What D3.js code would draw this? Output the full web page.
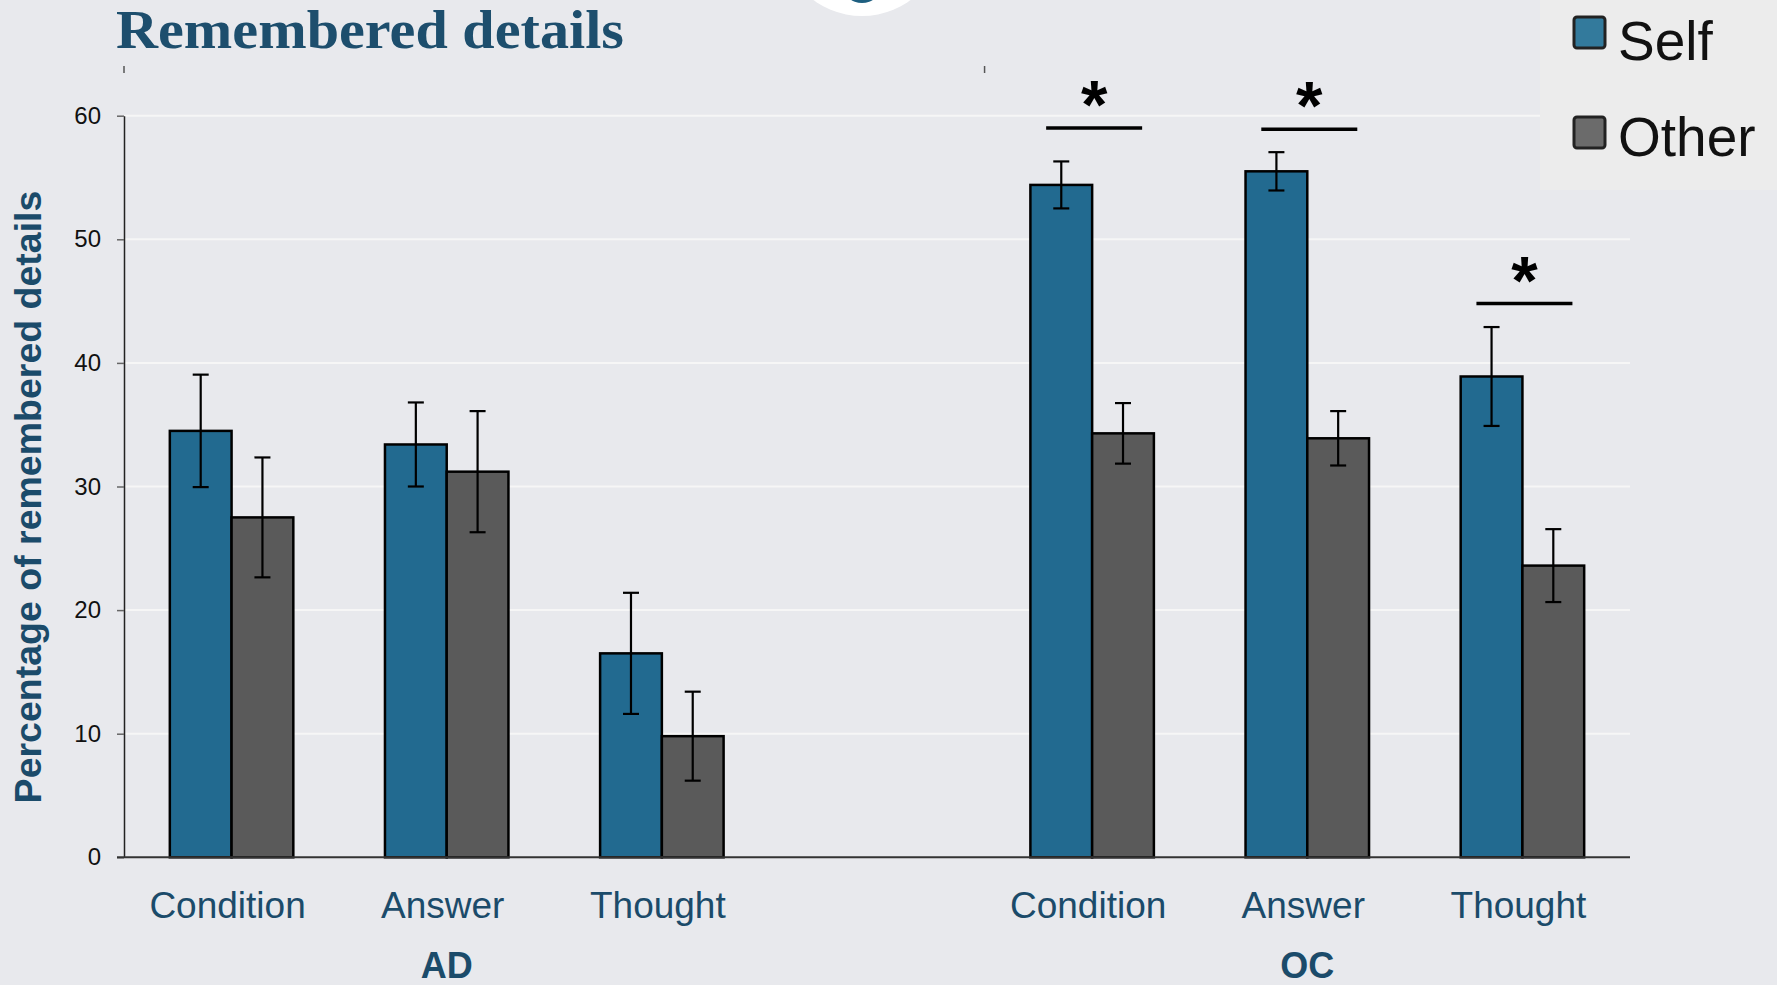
<!DOCTYPE html>
<html>
<head>
<meta charset="utf-8">
<script src="https://cdn.jsdelivr.net/npm/d3@7"></script>
<style>
  html, body { margin: 0; padding: 0; background: #e8e9ed; }
  svg { display: block; }
</style>
</head>
<body>
<svg id="chart"></svg>
<script>
(function() {

// data
const groups = ["AD", "OC"];
const conditions = ["Condition", "Answer", "Thought"];
const selfMeans = [34.5, 33.4, 16.5, 54.4, 55.5, 38.9];
const selfErr = [4.55, 3.4, 4.9, 1.9, 1.55, 4.0];
const otherMeans = [27.5, 31.2, 9.8, 34.3, 33.9, 23.6];
const otherErr = [4.85, 4.9, 3.6, 2.45, 2.2, 2.95];
const sigBars = [3, 4, 5];           // index of bar pairs with a significance mark
const sigLevels = [59.0, 58.9, 44.8];
const yTicks = [0, 10, 20, 30, 40, 50, 60];
const seriesNames = ["Self", "Other"];

const colorSelf = "#226a90";
const colorOther = "#5a5a5a";
const textBlue = "#1b4b6a";

const W = 1777, H = 985;
const plot = { left: 124, right: 1630, top: 115.7, bottom: 857.3 };

const svg = d3.select("#chart").attr("width", W).attr("height", H);

svg.append("rect").attr("width", W).attr("height", H).attr("fill", "#e8e9ed");

// slots: 3 AD conditions, an empty one, 3 OC conditions
const slots = [];
groups.forEach((g, gi) => {
    conditions.forEach(c => slots.push(g + "|" + c));
    if (gi === 0) slots.push("gap");
});
const rows = slots.filter(s => s !== "gap").map((s, i) => ({
    key: s,
    group: s.split("|")[0],
    cond: s.split("|")[1],
    self: selfMeans[i], selfE: selfErr[i],
    other: otherMeans[i], otherE: otherErr[i],
}));

const x = d3.scaleBand().domain(slots).range([plot.left, plot.right]).padding(0);
const y = d3.scaleLinear().domain([0, 60]).range([plot.bottom, plot.top]);
const barW = x.bandwidth() * 0.287;

// logo fragment at top
svg.append("circle").attr("cx", 862).attr("cy", -66).attr("r", 82).attr("fill", "#ffffff");
svg.append("ellipse").attr("cx", 862).attr("cy", -14).attr("rx", 19).attr("ry", 17).attr("fill", "#1e5f80");

// title
svg.append("text")
    .attr("x", 116).attr("y", 48)
    .attr("font-family", "Liberation Serif, Times New Roman, serif")
    .attr("font-weight", "bold")
    .attr("font-size", 54)
    .attr("textLength", 508)
    .attr("lengthAdjust", "spacingAndGlyphs")
    .attr("fill", "#1d4e6d")
    .text("Remembered details");

// gridlines
svg.append("g").selectAll("line")
    .data(yTicks.filter(d => d > 0))
    .join("line")
    .attr("x1", plot.left).attr("x2", plot.right)
    .attr("y1", d => y(d)).attr("y2", d => y(d))
    .attr("stroke", "#f6f6f6").attr("stroke-width", 2);

// y axis
const yAxis = svg.append("g")
    .attr("transform", `translate(${plot.left},0)`)
    .call(d3.axisLeft(y).tickValues(yTicks).tickSize(7).tickPadding(16).tickSizeOuter(0));
yAxis.select(".domain").attr("stroke", "#222").attr("stroke-width", 1.5);
yAxis.selectAll(".tick line").attr("stroke", "#666").attr("stroke-width", 1.5);
yAxis.selectAll(".tick text")
    .attr("font-family", "Liberation Sans, Arial, sans-serif")
    .attr("font-size", 24).attr("fill", "#111");

// group boundary ticks on top
const groupEdges = [slots[0], slots[4]].map(s => x(s)).concat([plot.right]);
svg.append("g").selectAll("line")
    .data(groupEdges)
    .join("line")
    .attr("x1", d => d).attr("x2", d => d)
    .attr("y1", 66).attr("y2", 73)
    .attr("stroke", "#555").attr("stroke-width", 1.5);

// bars
const pairs = svg.append("g").selectAll("g")
    .data(rows)
    .join("g")
    .attr("transform", d => `translate(${x(d.key) + x.bandwidth() / 2},0)`);

pairs.append("rect")
    .attr("x", -barW).attr("width", barW)
    .attr("y", d => y(d.self)).attr("height", d => y(0) - y(d.self))
    .attr("fill", colorSelf).attr("stroke", "#000").attr("stroke-width", 2.5);

pairs.append("rect")
    .attr("x", 0).attr("width", barW)
    .attr("y", d => y(d.other)).attr("height", d => y(0) - y(d.other))
    .attr("fill", colorOther).attr("stroke", "#000").attr("stroke-width", 2.5);

// error bars
function errBar(sel, cx, val, err) {
    const e = sel.append("g").attr("stroke", "#000").attr("stroke-width", 2.2);
    e.append("line").attr("x1", cx).attr("x2", cx)
        .attr("y1", d => y(val(d) + err(d))).attr("y2", d => y(val(d) - err(d)));
    e.append("line").attr("x1", cx - 8).attr("x2", cx + 8)
        .attr("y1", d => y(val(d) + err(d))).attr("y2", d => y(val(d) + err(d)));
    e.append("line").attr("x1", cx - 8).attr("x2", cx + 8)
        .attr("y1", d => y(val(d) - err(d))).attr("y2", d => y(val(d) - err(d)));
}
errBar(pairs, -barW / 2, d => d.self, d => d.selfE);
errBar(pairs, barW / 2, d => d.other, d => d.otherE);

// x axis baseline
svg.append("line")
    .attr("x1", plot.left - 7).attr("x2", plot.right)
    .attr("y1", y(0)).attr("y2", y(0))
    .attr("stroke", "#333").attr("stroke-width", 2);

// significance marks
const sig = svg.append("g").selectAll("g")
    .data(sigBars.map((b, i) => ({ row: rows[b], level: sigLevels[i] })))
    .join("g")
    .attr("transform", d => `translate(${x(d.row.key) + x.bandwidth() / 2 + 2},${y(d.level)})`);
sig.append("line")
    .attr("x1", -48).attr("x2", 48)
    .attr("stroke", "#000").attr("stroke-width", 3.5);
sig.append("text")
    .attr("x", 0).attr("y", 0)
    .attr("text-anchor", "middle")
    .attr("font-family", "Liberation Sans, Arial, sans-serif")
    .attr("font-weight", "bold")
    .attr("font-size", 68)
    .attr("fill", "#000")
    .text("*");

// category labels
svg.append("g").selectAll("text")
    .data(rows)
    .join("text")
    .attr("x", d => x(d.key) + x.bandwidth() / 2 - 4)
    .attr("y", 918)
    .attr("text-anchor", "middle")
    .attr("font-family", "Liberation Sans, Arial, sans-serif")
    .attr("font-size", 37)
    .attr("fill", textBlue)
    .text(d => d.cond);

// group labels
svg.append("g").selectAll("text")
    .data(groups)
    .join("text")
    .attr("x", g => {
        const ks = rows.filter(r => r.group === g).map(r => x(r.key));
        return (d3.min(ks) + d3.max(ks) + x.bandwidth()) / 2;
    })
    .attr("y", 978)
    .attr("text-anchor", "middle")
    .attr("font-family", "Liberation Sans, Arial, sans-serif")
    .attr("font-weight", "bold")
    .attr("font-size", 36)
    .attr("fill", textBlue)
    .text(g => g);

// y axis title
svg.append("text")
    .attr("transform", "translate(41,497) rotate(-90)")
    .attr("text-anchor", "middle")
    .attr("font-family", "Liberation Sans, Arial, sans-serif")
    .attr("font-weight", "bold")
    .attr("font-size", 37.5)
    .attr("fill", textBlue)
    .text("Percentage of remembered details");

// legend panel
const legend = svg.append("g");
legend.append("rect")
    .attr("x", 1540).attr("y", 0).attr("width", W - 1540).attr("height", 190)
    .attr("fill", "#ececec");
const leg = legend.selectAll("g")
    .data(seriesNames)
    .join("g")
    .attr("transform", (d, i) => `translate(1574,${17 + i * 100})`);
leg.append("rect")
    .attr("width", 31).attr("height", 31).attr("rx", 3)
    .attr("fill", (d, i) => i === 0 ? "#337a9c" : "#6b6b6b")
    .attr("stroke", "#222").attr("stroke-width", 3);
leg.append("text")
    .attr("x", 44).attr("y", (d, i) => i === 0 ? 43 : 39)
    .attr("font-family", "Liberation Sans, Arial, sans-serif")
    .attr("font-size", 55)
    .attr("fill", "#111")
    .text(d => d);

})();
</script>
</body>
</html>
